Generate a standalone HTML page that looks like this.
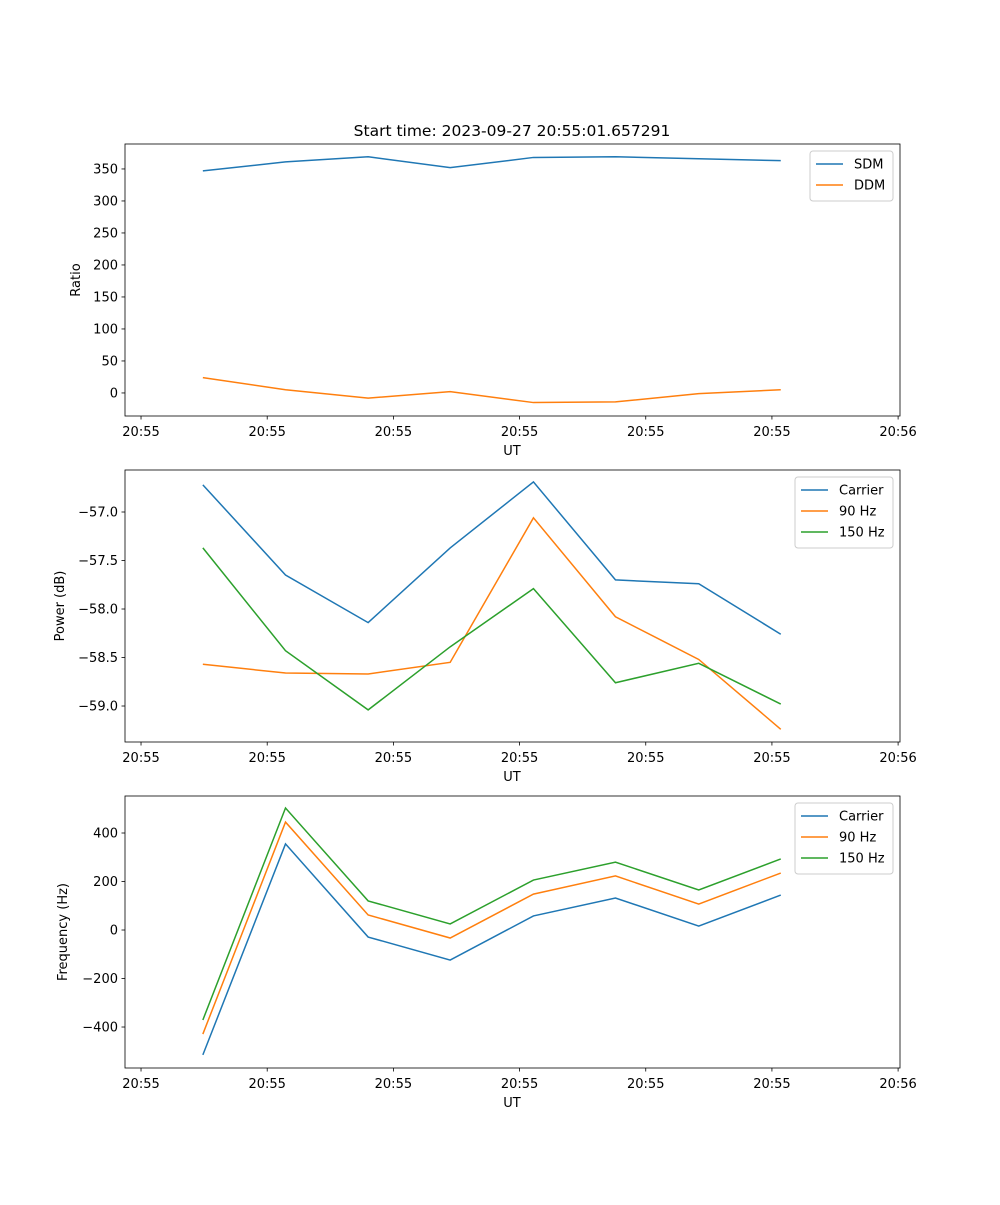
<!DOCTYPE html>
<html><head><meta charset="utf-8"><style>
body{margin:0;background:#fff}
svg text{font-family:"DejaVu Sans","Liberation Sans",sans-serif;font-size:13px;fill:#000}
</style></head><body>
<svg id="fig" width="1000" height="1200" xmlns="http://www.w3.org/2000/svg">
<text x="512" y="136" text-anchor="middle" style="font-size:15.5px">Start time: 2023-09-27 20:55:01.657291</text>
</svg>
<script>
const times=[0.49,1.145,1.80,2.45,3.11,3.76,4.42,5.07];
const xTicks=[0,1,2,3,4,5,6];
const xTickLabels=["20:55","20:55","20:55","20:55","20:55","20:55","20:56"];
const sdm=[347,361,369,352,368,369,366,363];
const ddm=[24,5,-8,2,-15,-14,-1,5];
const ticks1=[0,50,100,150,200,250,300,350];
const pwrCarrier=[-56.72,-57.65,-58.14,-57.37,-56.69,-57.70,-57.74,-58.26];
const pwr90=[-58.57,-58.66,-58.67,-58.55,-57.06,-58.08,-58.52,-59.24];
const pwr150=[-57.37,-58.43,-59.04,-58.39,-57.79,-58.76,-58.56,-58.98];
const ticks2=[-57.0,-57.5,-58.0,-58.5,-59.0];
const frqCarrier=[-515,355,-29,-124,58,132,16,144];
const frq90=[-429,445,62,-33,148,223,107,235];
const frq150=[-371,503,120,25,206,280,165,293];
const ticks3=[-400,-200,0,200,400];
const C=["#1f77b4","#ff7f0e","#2ca02c"];
const NS="http://www.w3.org/2000/svg";
const svg=document.getElementById('fig');
function mk(tag,attrs,parent){const e=document.createElementNS(NS,tag);for(const k in attrs)e.setAttribute(k,attrs[k]);(parent||svg).appendChild(e);return e;}
const X0=125,X1=900,XMIN=-0.127,XMAX=6.015;
function xs(t){return X0+(t-XMIN)/(XMAX-XMIN)*(X1-X0);}
function fmt(v,d){let s=v.toFixed(d);return s.replace('-','\u2212');}
function panel(name,top,bot,ymin,ymax,ticks,dec,ylabel,series,names,lx,lw){
  const g=mk('g',{});
  
  
  const ys=v=>bot-(v-ymin)/(ymax-ymin)*(bot-top);
  series.forEach((s,i)=>{
    const p=mk('polyline',{points:s.map((v,j)=>xs(times[j])+','+ys(v)).join(' '),fill:'none',stroke:C[i],'stroke-width':1.5},g);
    
    
  });
  const r=mk('rect',{x:X0,y:top,width:X1-X0,height:bot-top,fill:'none',stroke:'#000','stroke-width':0.8},g);
  
  
  xTicks.forEach((t,i)=>{
    const x=xs(t);
    mk('line',{x1:x,x2:x,y1:bot,y2:bot+3.5,stroke:'#000','stroke-width':0.8},g);
    const tx=mk('text',{x:x,y:bot+20,'text-anchor':'middle'},g);tx.textContent=xTickLabels[i];
    
    
  });
  ticks.forEach(v=>{
    const y=ys(v);
    mk('line',{x1:X0-3.5,x2:X0,y1:y,y2:y,stroke:'#000','stroke-width':0.8},g);
    const tx=mk('text',{x:X0-7,y:y+4.5,'text-anchor':'end'},g);tx.textContent=fmt(v,dec);
    
    
  });
  const xl=mk('text',{x:512,y:bot+39,'text-anchor':'middle'},g);xl.textContent='UT';
  
  
  const yx=ylabel==='Ratio'?80:ylabel==='Power (dB)'?64:67;
  const yl=mk('text',{x:yx,y:(top+bot)/2,'text-anchor':'middle',transform:`rotate(-90 ${yx} ${(top+bot)/2})`},g);yl.textContent=ylabel;
  
  
  const lg=mk('g',{},g);
  
  
  mk('rect',{x:lx,y:top+7,width:lw,height:8+names.length*21,rx:3,fill:'#fff',stroke:'#ccc','stroke-width':1},lg);
  names.forEach((n,i)=>{
    const y=top+20+i*21;
    mk('line',{x1:lx+6,x2:lx+33,y1:y,y2:y,stroke:C[i],'stroke-width':1.5},lg);
    const t=mk('text',{x:lx+44,y:y+4.5},lg);t.textContent=n;
    
    
  });
}
panel('ratio-panel',144,416,-36,389,ticks1,0,'Ratio',[sdm,ddm],['SDM','DDM'],810,83);
panel('power-panel',470,742,-59.371,-56.567,ticks2,1,'Power (dB)',[pwrCarrier,pwr90,pwr150],['Carrier','90 Hz','150 Hz'],795,98);
panel('frequency-panel',796,1068,-569,552.6,ticks3,0,'Frequency (Hz)',[frqCarrier,frq90,frq150],['Carrier','90 Hz','150 Hz'],795,98);
</script>
</body></html>
